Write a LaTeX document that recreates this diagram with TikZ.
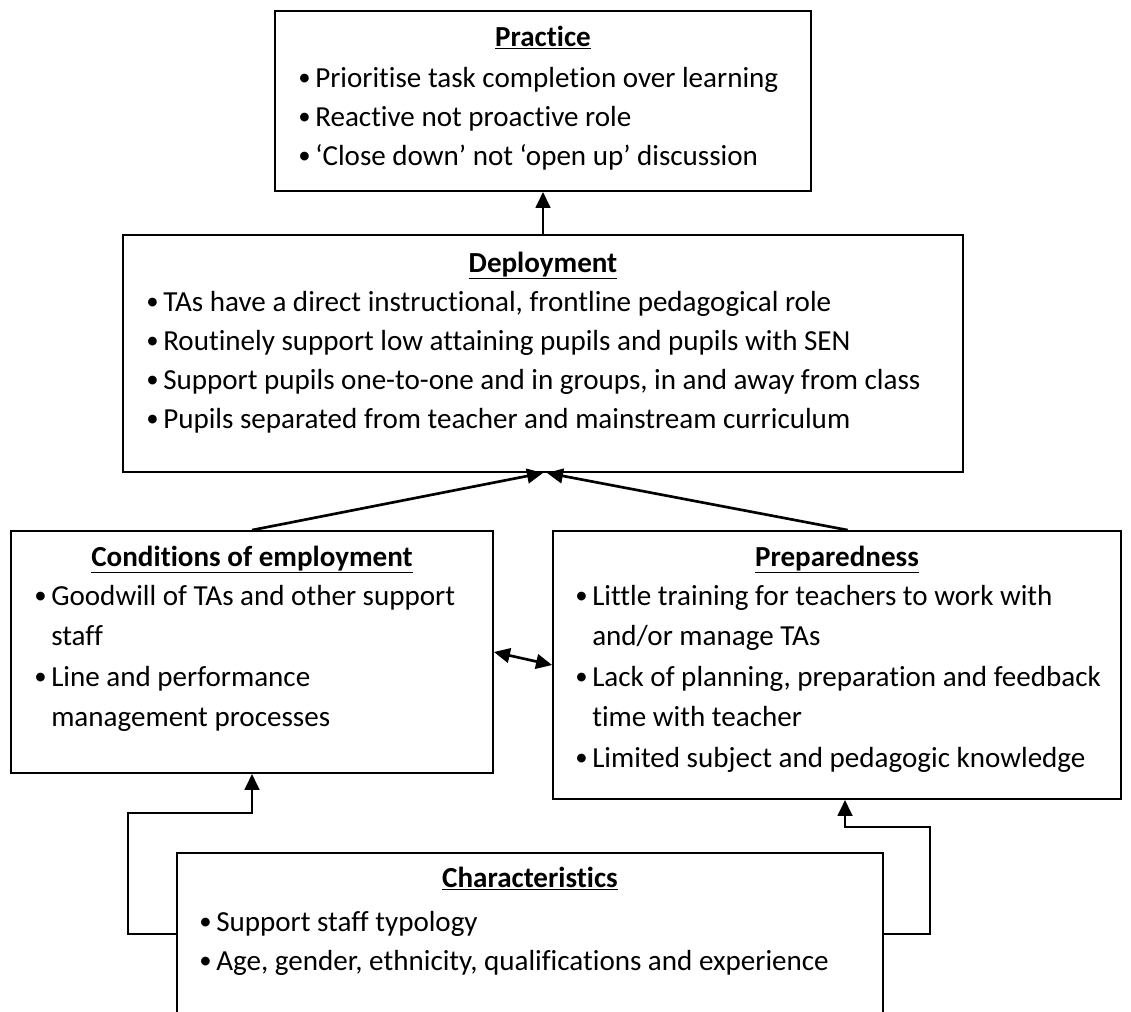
\documentclass[tikz,border=0pt]{standalone}
\usepackage{fontspec}
\usepackage{graphicx}
\setmainfont[RawFeature={-liga;-dlig;-clig;-hlig}]{Carlito}
\usetikzlibrary{arrows.meta,fit,calc}
\newcommand\itm{\makebox[12.75pt][l]{\raisebox{0.12ex}{\scalebox{0.85}{\textbullet}}}}
\newcommand\ttl[1]{\underline{\textbf{#1}}}
\begin{document}
\begin{tikzpicture}[x=0.75pt,y=-0.75pt,
  box/.style={draw, line width=1.4pt, inner sep=0pt},
  txt/.style={anchor=base west, inner sep=0pt, font=\fontsize{21.8}{26}\selectfont},
  head/.style={anchor=base, inner sep=0pt, font=\fontsize{21.8}{26}\selectfont},
  arr/.style={line width=2pt, -{Triangle[length=12pt,width=11pt]}},
  darr/.style={line width=2pt, {Triangle[length=12pt,width=11pt]}-{Triangle[length=12pt,width=11pt]}}]
\useasboundingbox (0,0) rectangle (1131,1011);
\clip (0,0) rectangle (1131,1011);

% boxes
\node[box, fit={(275,11) (811,191)}] (prac) {};
\node[box, fit={(123,235) (963,472)}] (dep) {};
\node[box, fit={(11,531) (493,773)}] (cond) {};
\node[box, fit={(553,531) (1121,799)}] (prep) {};
\node[box, fit={(177,853) (883,1015)}] (char) {};

% Practice
\node[head] (pt) at (543,46) {\ttl{Practice}};
\node[txt] (p1) at (298,87) {\itm Prioritise task completion over learning};
\node[txt] (p2) at (298,126) {\itm Reactive not proactive role};
\node[txt] (p3) at (298,165) {\itm ‘Close down’ not ‘open up’ discussion};

% Deployment
\node[head] (dt) at (543,272) {\ttl{Deployment}};
\node[txt] (d1) at (146,311) {\itm TAs have a direct instructional, frontline pedagogical role};
\node[txt] (d2) at (146,350) {\itm Routinely support low attaining pupils and pupils with SEN};
\node[txt] (d3) at (146,389) {\itm Support pupils one-to-one and in groups, in and away from class};
\node[txt] (d4) at (146,428) {\itm Pupils separated from teacher and mainstream curriculum};

% Conditions of employment
\node[head] (ct) at (252,566) {\ttl{Conditions of employment}};
\node[txt] (c1) at (34,605) {\itm Goodwill of TAs and other support};
\node[txt] (c2) at (51,645) {staff};
\node[txt] (c3) at (34,686) {\itm Line and performance};
\node[txt] (c4) at (51,726) {management processes};

% Preparedness
\node[head] (rt) at (837,566) {\ttl{Preparedness}};
\node[txt] (r1) at (575,605) {\itm Little training for teachers to work with};
\node[txt] (r2) at (592,645) {and/or manage TAs};
\node[txt] (r3) at (575,686) {\itm Lack of planning, preparation and feedback};
\node[txt] (r4) at (592,726) {time with teacher};
\node[txt] (r5) at (575,767) {\itm Limited subject and pedagogic knowledge};

% Characteristics
\node[head] (ht) at (530,887) {\ttl{Characteristics}};
\node[txt] (h1) at (199,931) {\itm Support staff typology};
\node[txt] (h2) at (199,970) {\itm Age, gender, ethnicity, qualifications and experience};

% connectors
\draw[arr] (dep.north) -- (prac.south);
\draw[arr] (cond.north) -- (dep.south);
\draw[arr] ([xshift=8pt]prep.north) -- ([xshift=3pt]dep.south);
\draw[darr] (cond.east) -- (prep.west);
\draw[arr] (char.west) -| (128,813) -| (cond.south);
\draw[arr] (char.east) -| (930,827) -| ([xshift=6pt]prep.south);
\end{tikzpicture}
\end{document}
